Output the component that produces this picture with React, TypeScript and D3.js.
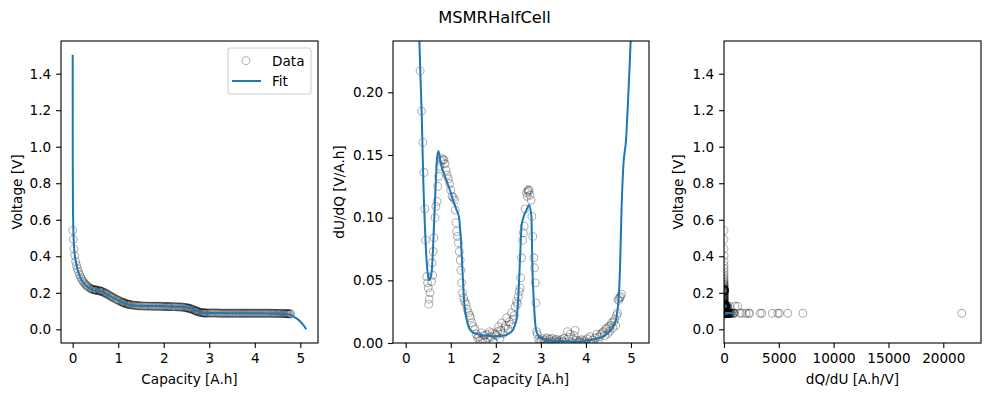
import { useEffect, useRef } from 'react';
import * as d3 from 'd3';

// measured half-cell data: capacity [A.h], voltage [V], dU/dQ [V/A.h]
const dataCapacity = [
  0.0, 0.012, 0.028, 0.045, 0.065, 0.085, 0.105, 0.125, 0.15, 0.175,
  0.2, 0.225, 0.25, 0.275, 0.3, 0.32, 0.35, 0.38, 0.405, 0.425,
  0.44, 0.465, 0.485, 0.5, 0.51, 0.52, 0.54, 0.575, 0.585, 0.6,
  0.61, 0.63, 0.65, 0.67, 0.695, 0.71, 0.73, 0.755, 0.78, 0.805,
  0.83, 0.85, 0.87, 0.895, 0.92, 0.95, 0.975, 1.0, 1.03, 1.06,
  1.085, 1.1, 1.115, 1.13, 1.15, 1.17, 1.19, 1.21, 1.225, 1.24,
  1.26, 1.285, 1.31, 1.34, 1.365, 1.395, 1.42, 1.44, 1.47, 1.5,
  1.535, 1.565, 1.595, 1.62, 1.65, 1.68, 1.71, 1.74, 1.77, 1.8,
  1.83, 1.86, 1.89, 1.92, 1.95, 1.98, 2.01, 2.04, 2.06, 2.09,
  2.11, 2.13, 2.16, 2.19, 2.22, 2.24, 2.27, 2.3, 2.33, 2.35,
  2.38, 2.41, 2.43, 2.46, 2.48, 2.5, 2.52, 2.54, 2.55, 2.57,
  2.595, 2.61, 2.63, 2.65, 2.68, 2.695, 2.71, 2.725, 2.74, 2.76,
  2.785, 2.8, 2.82, 2.845, 2.86, 2.875, 2.89, 2.905, 2.92, 2.95,
  2.98, 3.01, 3.04, 3.07, 3.1, 3.13, 3.16, 3.19, 3.22, 3.25,
  3.28, 3.31, 3.34, 3.37, 3.4, 3.43, 3.46, 3.49, 3.52, 3.55,
  3.59, 3.62, 3.65, 3.68, 3.71, 3.74, 3.76, 3.79, 3.82, 3.85,
  3.88, 3.91, 3.94, 3.97, 4.0, 4.03, 4.06, 4.09, 4.12, 4.15,
  4.18, 4.21, 4.24, 4.27, 4.3, 4.33, 4.36, 4.39, 4.42, 4.44,
  4.46, 4.49, 4.51, 4.53, 4.55, 4.57, 4.6, 4.62, 4.64, 4.66,
  4.68, 4.7, 4.71, 4.73, 4.75, 4.77, 4.79,
];

const dataVoltage = [
  0.542, 0.493, 0.44, 0.403, 0.372, 0.35, 0.332, 0.316, 0.3, 0.286,
  0.274, 0.264, 0.255, 0.247, 0.241, 0.236, 0.231, 0.226, 0.222, 0.22,
  0.218, 0.217, 0.216, 0.215, 0.215, 0.214, 0.213, 0.212, 0.211, 0.21,
  0.209, 0.208, 0.206, 0.204, 0.201, 0.199, 0.197, 0.193, 0.19, 0.186,
  0.182, 0.179, 0.176, 0.173, 0.169, 0.165, 0.162, 0.159, 0.155, 0.152,
  0.149, 0.147, 0.146, 0.144, 0.142, 0.141, 0.139, 0.138, 0.137, 0.136,
  0.135, 0.134, 0.133, 0.132, 0.131, 0.13, 0.13, 0.129, 0.129, 0.128,
  0.128, 0.128, 0.127, 0.127, 0.127, 0.127, 0.127, 0.126, 0.126, 0.126,
  0.126, 0.126, 0.126, 0.126, 0.126, 0.125, 0.125, 0.125, 0.125, 0.125,
  0.125, 0.124, 0.124, 0.124, 0.124, 0.124, 0.123, 0.123, 0.123, 0.122,
  0.122, 0.121, 0.121, 0.12, 0.119, 0.118, 0.117, 0.116, 0.115, 0.114,
  0.112, 0.111, 0.109, 0.107, 0.104, 0.102, 0.101, 0.099, 0.098, 0.096,
  0.094, 0.093, 0.092, 0.091, 0.09, 0.09, 0.09, 0.089, 0.089, 0.089,
  0.089, 0.089, 0.089, 0.089, 0.089, 0.089, 0.089, 0.089, 0.088, 0.088,
  0.088, 0.088, 0.088, 0.088, 0.088, 0.088, 0.088, 0.088, 0.088, 0.088,
  0.088, 0.088, 0.088, 0.088, 0.088, 0.088, 0.088, 0.088, 0.088, 0.088,
  0.088, 0.088, 0.088, 0.088, 0.088, 0.088, 0.088, 0.088, 0.088, 0.088,
  0.088, 0.088, 0.088, 0.088, 0.088, 0.088, 0.088, 0.088, 0.087, 0.087,
  0.087, 0.087, 0.087, 0.087, 0.087, 0.087, 0.087, 0.086, 0.086, 0.086,
  0.086, 0.086, 0.085, 0.085, 0.085, 0.085, 0.084,
];

const dataDUDQ = [
  1.8, 3.0, 2.6, 1.9, 1.3, 1.0, 0.85, 0.72, 0.6, 0.5,
  0.42, 0.36, 0.31, 0.27, 0.25, 0.217, 0.185, 0.16, 0.136, 0.107,
  0.082, 0.053, 0.048, 0.044, 0.031, 0.035, 0.04, 0.049, 0.064, 0.054,
  0.073, 0.084, 0.1, 0.109, 0.113, 0.125, 0.133, 0.141, 0.145, 0.147,
  0.146, 0.146, 0.143, 0.138, 0.134, 0.131, 0.127, 0.122, 0.117, 0.116,
  0.114, 0.106, 0.096, 0.089, 0.085, 0.08, 0.073, 0.066, 0.058, 0.048,
  0.04, 0.036, 0.033, 0.031, 0.027, 0.024, 0.022, 0.02, 0.016, 0.013,
  0.011, 0.007, 0.004, 0.0052, 0.002, 0.008, 0.003, 0.006, 0.001, 0.0068,
  0.004, 0.009, 0.0048, 0.008, 0.0008, 0.007, 0.006, 0.009, 0.013, 0.0035,
  0.01, 0.016, 0.0075, 0.012, 0.014, 0.02, 0.011, 0.017, 0.015, 0.024,
  0.019, 0.022, 0.029, 0.033, 0.031, 0.037, 0.041, 0.044, 0.052, 0.068,
  0.082, 0.088, 0.093, 0.107, 0.12, 0.117, 0.122, 0.121, 0.122, 0.118,
  0.114, 0.101, 0.085, 0.068, 0.06, 0.048, 0.032, 0.009, 0.007, 0.003,
  0.0014, 0.002, 0.0035, 0.0011, 0.0025, 0.004, 0.00069, 0.003, 0.0015, 0.0036,
  0.0005, 0.002, 0.003, 0.00061, 0.0018, 0.000303, 0.0028, 0.0012, 0.004, 0.000444,
  0.009, 0.0045, 0.007, 0.000139, 0.0032, 0.006, 0.01, 0.0022, 0.000204, 0.0016,
  0.000426, 0.0026, 0.000227, 0.0019, 0.00029, 0.0034, 0.0000461, 0.005, 0.000198, 0.0024,
  0.000172, 0.004, 0.007, 0.00111, 0.005, 0.0069, 0.008, 0.009, 0.0059, 0.011,
  0.012, 0.0075, 0.013, 0.0095, 0.014, 0.016, 0.012, 0.017, 0.019, 0.014,
  0.022, 0.024, 0.035, 0.034, 0.036, 0.037, 0.039,
];

// fitted MSMR model
const fitCapacity = [
  0.0, 0.002, 0.005, 0.01, 0.02, 0.04, 0.07, 0.1, 0.15, 0.2,
  0.25, 0.3, 0.33, 0.355, 0.39, 0.43, 0.466, 0.49, 0.52, 0.55,
  0.58, 0.63, 0.67, 0.7, 0.73, 0.78, 0.87, 0.98, 1.06, 1.13,
  1.18, 1.22, 1.26, 1.29, 1.35, 1.4, 1.46, 1.55, 1.65, 1.8,
  2.02, 2.15, 2.24, 2.33, 2.39, 2.43, 2.46, 2.5, 2.54, 2.57,
  2.61, 2.68, 2.74, 2.79, 2.81, 2.85, 2.89, 2.94, 2.98, 3.08,
  3.2, 3.4, 3.6, 3.79, 3.95, 4.16, 4.3, 4.39, 4.48, 4.57,
  4.63, 4.67, 4.7, 4.73, 4.76, 4.79, 4.83, 4.89, 4.94, 5.01,
  5.07, 5.13,
];

const fitVoltage = [
  1.504, 0.9, 0.7, 0.6, 0.5, 0.42, 0.37, 0.335, 0.295, 0.268,
  0.25, 0.238, 0.232, 0.228, 0.223, 0.219, 0.217, 0.216, 0.214, 0.213,
  0.211, 0.208, 0.204, 0.2, 0.195, 0.188, 0.175, 0.161, 0.151, 0.143,
  0.138, 0.135, 0.132, 0.131, 0.13, 0.129, 0.129, 0.128, 0.127, 0.127,
  0.126, 0.125, 0.124, 0.124, 0.123, 0.122, 0.122, 0.12, 0.119, 0.117,
  0.113, 0.106, 0.1, 0.095, 0.093, 0.091, 0.09, 0.0895, 0.0893, 0.089,
  0.0888, 0.0885, 0.0882, 0.088, 0.0878, 0.0874, 0.087, 0.0866, 0.086, 0.0852,
  0.0845, 0.0838, 0.083, 0.082, 0.0805, 0.078, 0.0735, 0.064, 0.056, 0.04,
  0.023, 0.0,
];

const fitDUDQ = [
  300, 100, 40, 15, 6, 2.8, 1.3, 0.95, 0.65, 0.45,
  0.32, 0.245, 0.21, 0.183, 0.13, 0.09, 0.064, 0.055, 0.05, 0.052,
  0.058, 0.096, 0.13, 0.149, 0.153, 0.143, 0.133, 0.122, 0.113, 0.106,
  0.101, 0.085, 0.058, 0.037, 0.019, 0.0125, 0.0093, 0.0075, 0.0066, 0.0057,
  0.0053, 0.0058, 0.0066, 0.0085, 0.011, 0.015, 0.019, 0.037, 0.069, 0.093,
  0.1, 0.106, 0.11, 0.101, 0.064, 0.029, 0.011, 0.006, 0.004, 0.0028,
  0.002, 0.0016, 0.0013, 0.0011, 0.0015, 0.0027, 0.004, 0.0053, 0.0075, 0.011,
  0.015, 0.019, 0.026, 0.037, 0.064, 0.106, 0.141, 0.162, 0.197, 0.26,
  0.35, 0.5,
];

const capacityTicks = [0, 1, 2, 3, 4, 5];
const voltageTicks = [0, 0.2, 0.4, 0.6, 0.8, 1.0, 1.2, 1.4];
const dudqTicks = [0, 0.05, 0.1, 0.15, 0.2];
const dqduTicks = [0, 5000, 10000, 15000, 20000];

const FONT = "'DejaVu Sans', sans-serif";
const BLUE = '#1f77b4';

const App = () => {
  const ref = useRef<SVGSVGElement>(null);

  useEffect(() => {
    if (!ref.current) return;
    const svg = d3.select(ref.current);
    svg.selectAll('*').remove();

    const top = 41;
    const bottom = 343;

    const pts = dataCapacity.map((q, i) => ({ q, u: dataVoltage[i], d: dataDUDQ[i] }));
    const fit = fitCapacity.map((q, i) => ({ q, u: fitVoltage[i], d: fitDUDQ[i] }));

    svg
      .append('text')
      .attr('x', 494.5)
      .attr('y', 23.3)
      .attr('text-anchor', 'middle')
      .attr('font-family', FONT)
      .attr('font-size', 16.3)
      .text('MSMRHalfCell');

    const panels = [
      {
        left: 61, right: 318,
        xDomain: [-0.257, 5.389], yDomain: [-0.075, 1.579],
        xTicks: capacityTicks, xFmt: d3.format('d'),
        yTicks: voltageTicks, yFmt: d3.format('.1f'),
        xLabel: 'Capacity [A.h]', yLabel: 'Voltage [V]', yLabelX: 21.6,
        px: (p: any) => p.q, py: (p: any) => p.u, curve: d3.curveMonotoneX, fitInset: 0,
      },
      {
        left: 393, right: 649,
        xDomain: [-0.282, 5.4], yDomain: [0, 0.2409],
        xTicks: capacityTicks, xFmt: d3.format('d'),
        yTicks: dudqTicks, yFmt: d3.format('.2f'),
        xLabel: 'Capacity [A.h]', yLabel: 'dU/dQ [V/A.h]', yLabelX: 343.5,
        px: (p: any) => p.q, py: (p: any) => p.d, curve: d3.curveMonotoneX, fitInset: 0,
      },
      {
        left: 724, right: 981,
        xDomain: [0, 23440], yDomain: [-0.075, 1.579],
        xTicks: dqduTicks, xFmt: d3.format('d'),
        yTicks: voltageTicks, yFmt: d3.format('.1f'),
        xLabel: 'dQ/dU [A.h/V]', yLabel: 'Voltage [V]', yLabelX: 682.5,
        px: (p: any) => 1 / p.d, py: (p: any) => p.u, curve: d3.curveLinear, fitInset: 1.2,
      },
    ];

    panels.forEach((pn, k) => {
      const x = d3.scaleLinear().domain(pn.xDomain).range([pn.left, pn.right]);
      const y = d3.scaleLinear().domain(pn.yDomain).range([bottom, top]);
      const clipId = `clip-${k}`;
      const fitClipId = `fitclip-${k}`;

      svg
        .append('clipPath')
        .attr('id', clipId)
        .append('rect')
        .attr('x', pn.left)
        .attr('y', top)
        .attr('width', pn.right - pn.left)
        .attr('height', bottom - top);
      svg
        .append('clipPath')
        .attr('id', fitClipId)
        .append('rect')
        .attr('x', pn.left + pn.fitInset)
        .attr('y', top)
        .attr('width', pn.right - pn.left - pn.fitInset)
        .attr('height', bottom - top);

      const g = svg.append('g').attr('clip-path', `url(#${clipId})`);

      // data markers
      g.selectAll('circle')
        .data(pts)
        .enter()
        .append('circle')
        .attr('cx', (d) => x(pn.px(d)))
        .attr('cy', (d) => y(pn.py(d)))
        .attr('r', 3.9)
        .attr('fill', 'none')
        .attr('stroke', '#000')
        .attr('stroke-opacity', 0.3)
        .attr('stroke-width', 1.1);

      // fit line
      const line = d3
        .line<any>()
        .x((d) => x(pn.px(d)))
        .y((d) => y(pn.py(d)))
        .curve(pn.curve);
      svg
        .append('g')
        .attr('clip-path', `url(#${fitClipId})`)
        .append('path')
        .attr('d', line(fit))
        .attr('fill', 'none')
        .attr('stroke', BLUE)
        .attr('stroke-width', 2);

      // axes
      const xAxis = svg
        .append('g')
        .attr('transform', `translate(0,${bottom})`)
        .call(d3.axisBottom(x).tickValues(pn.xTicks).tickFormat(pn.xFmt as any).tickSize(4.9).tickPadding(5.2).tickSizeOuter(0));
      const yAxis = svg
        .append('g')
        .attr('transform', `translate(${pn.left},0)`)
        .call(d3.axisLeft(y).tickValues(pn.yTicks).tickFormat(pn.yFmt as any).tickSize(4.9).tickPadding(4.9).tickSizeOuter(0));
      [xAxis, yAxis].forEach((a) => {
        a.select('.domain').remove();
        a.selectAll('line').attr('stroke', '#000').attr('stroke-width', 1.1);
        a.selectAll('text').attr('font-family', FONT).attr('font-size', 13.6).attr('fill', '#000');
      });

      // spines
      svg
        .append('rect')
        .attr('x', pn.left)
        .attr('y', top)
        .attr('width', pn.right - pn.left)
        .attr('height', bottom - top)
        .attr('fill', 'none')
        .attr('stroke', '#000')
        .attr('stroke-width', 1.1);

      svg
        .append('text')
        .attr('x', (pn.left + pn.right) / 2)
        .attr('y', 383.5)
        .attr('text-anchor', 'middle')
        .attr('font-family', FONT)
        .attr('font-size', 13.6)
        .text(pn.xLabel);

      svg
        .append('text')
        .attr('transform', `translate(${pn.yLabelX},${(top + bottom) / 2}) rotate(-90)`)
        .attr('text-anchor', 'middle')
        .attr('font-family', FONT)
        .attr('font-size', 13.6)
        .text(pn.yLabel);
    });

    // legend in the first panel
    const lg = svg.append('g');
    lg.append('rect')
      .attr('x', 228)
      .attr('y', 48)
      .attr('width', 83)
      .attr('height', 46)
      .attr('rx', 2.5)
      .attr('fill', '#fff')
      .attr('fill-opacity', 0.8)
      .attr('stroke', '#d0d0d0')
      .attr('stroke-width', 1.1);
    lg.append('circle')
      .attr('cx', 246)
      .attr('cy', 60.7)
      .attr('r', 3.9)
      .attr('fill', 'none')
      .attr('stroke', '#000')
      .attr('stroke-opacity', 0.3)
      .attr('stroke-width', 1.1);
    lg.append('line')
      .attr('x1', 232)
      .attr('x2', 261)
      .attr('y1', 81)
      .attr('y2', 81)
      .attr('stroke', BLUE)
      .attr('stroke-width', 2);
    lg.selectAll('text.lab')
      .data([['Data', 65.5], ['Fit', 86]])
      .enter()
      .append('text')
      .attr('x', 272)
      .attr('y', (d) => d[1] as number)
      .attr('font-family', FONT)
      .attr('font-size', 13.6)
      .text((d) => d[0] as string);
  }, []);

  return (
    <svg
      ref={ref}
      width={989}
      height={396}
      style={{ position: 'absolute', left: 0, top: 0, background: '#fff' }}
    ></svg>
  );
};

export default App;
